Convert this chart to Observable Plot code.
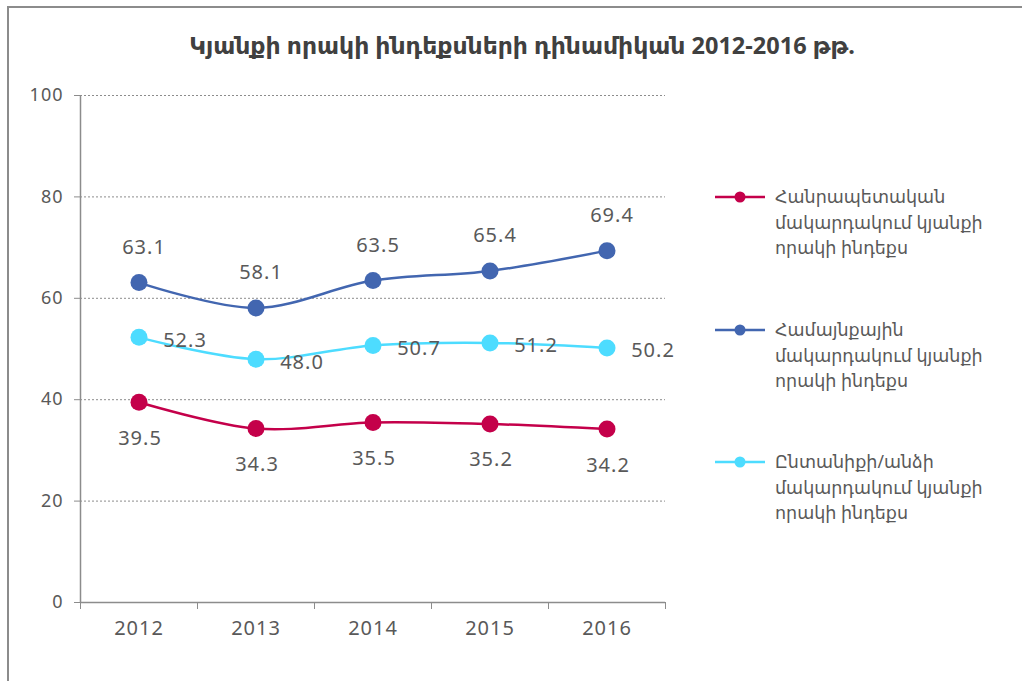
<!DOCTYPE html>
<html>
<head>
<meta charset="utf-8">
<script src="https://cdn.jsdelivr.net/npm/d3@7"></script>
<script src="https://cdn.jsdelivr.net/npm/@observablehq/plot@0.6"></script>
<style>
  html, body { margin: 0; padding: 0; background: #fff; }
  body { width: 1022px; height: 681px; position: relative; overflow: hidden; font-family: "Noto Sans", "DejaVu Sans", sans-serif; }
  #frame { position: absolute; left: 7px; top: 6px; width: 1200px; height: 1000px; border: 2px solid #8c8c8c; box-sizing: border-box; }
  #title { position: absolute; left: 0; top: 29px; width: 1044px; text-align: center; font-size: 23.5px; font-weight: bold; color: #404040; line-height: 32px; }
  #chart { position: absolute; left: 0; top: 70px; }
  #chart svg text { letter-spacing: 1px; }
  #legend { position: absolute; left: 715px; top: 0; }
  .item { position: absolute; left: 0; width: 300px; }
  .item svg { position: absolute; left: 0; top: 0; }
  .item .txt { position: absolute; left: 60px; top: 0; font-size: 17.5px; line-height: 25.5px; color: #595959; white-space: nowrap; }
</style>
</head>
<body>
<div id="frame"></div>
<div id="title">Կյանքի որակի ինդեքսների դինամիկան 2012-2016 թթ.</div>
<div id="chart"></div>
<div id="legend"></div>
<script>
const years = [2012, 2013, 2014, 2015, 2016];
const nationalIndex = [39.5, 34.3, 35.5, 35.2, 34.2];
const communityIndex = [63.1, 58.1, 63.5, 65.4, 69.4];
const householdIndex = [52.3, 48.0, 50.7, 51.2, 50.2];
const seriesNames = ["national", "community", "household"];
const seriesColors = ["#c4004a", "#4266b0", "#4ddcff"];
const legendLabels = [
  ["Հանրապետական", "մակարդակում կյանքի", "որակի ինդեքս"],
  ["Համայնքային", "մակարդակում կյանքի", "որակի ինդեքս"],
  ["Ընտանիքի/անձի", "մակարդակում կյանքի", "որակի ինդեքս"]
];
const yTicks = [0, 20, 40, 60, 80, 100];
const xBoundaries = [2011.5, 2012.5, 2013.5, 2014.5, 2015.5, 2016.5];

const seriesValues = [nationalIndex, communityIndex, householdIndex];
const rows = [];
seriesNames.forEach((s, i) => {
  years.forEach((yr, j) => rows.push({series: s, year: yr, value: seriesValues[i][j]}));
});
const bySeries = s => rows.filter(d => d.series === s);

const plot = Plot.plot({
  width: 700,
  height: 611,
  marginTop: 25,
  marginBottom: 79,
  marginLeft: 80,
  marginRight: 35,
  style: {fontFamily: "'Noto Sans', 'DejaVu Sans', sans-serif", fontSize: "18px", color: "#595959", background: "transparent"},
  x: {domain: [2011.5, 2016.5], axis: null},
  y: {domain: [0, 100], axis: null},
  color: {domain: seriesNames, range: seriesColors},
  marks: [
    Plot.gridY(yTicks.filter(t => t > 0), {stroke: "#8c8c8c", strokeOpacity: 1, strokeDasharray: "2,2", strokeWidth: 1}),
    Plot.ruleX([2011.5], {stroke: "#8c8c8c", strokeWidth: 1.5}),
    Plot.ruleY([0], {stroke: "#8c8c8c", strokeWidth: 1.5}),
    Plot.axisY({ticks: yTicks, tickSize: 6, tickPadding: 11, stroke: "#8c8c8c", fill: "#595959", fontSize: 18, tickFormat: d => String(d), label: null}),
    Plot.axisX({ticks: xBoundaries, tickSize: 7, tickFormat: () => "", stroke: "#8c8c8c", label: null}),
    Plot.axisX({ticks: years, tickSize: 0, tickPadding: 18, fill: "#595959", fontSize: 20, tickFormat: d => String(d), label: null}),
    Plot.line(rows, {x: "year", y: "value", z: "series", stroke: "series", strokeWidth: 2.5, curve: "catmull-rom"}),
    Plot.dot(rows, {x: "year", y: "value", fill: "series", r: 8.5}),
    Plot.text(bySeries("community"), {x: "year", y: "value", text: d => d.value.toFixed(1), dy: -35, dx: 5, fill: "#595959", fontSize: 20}),
    Plot.text(bySeries("national"), {x: "year", y: "value", text: d => d.value.toFixed(1), dy: 36, dx: 1, fill: "#595959", fontSize: 20}),
    Plot.text(bySeries("household"), {x: "year", y: "value", text: d => d.value.toFixed(1), dy: 3, dx: 46, fill: "#595959", fontSize: 20})
  ]
});
document.getElementById("chart").appendChild(plot);

const legend = document.getElementById("legend");
const tops = [184, 317, 449];
seriesNames.forEach((s, i) => {
  const item = document.createElement("div");
  item.className = "item";
  item.style.top = tops[i] + "px";
  item.innerHTML = `<svg width="56" height="26"><line x1="0" x2="50" y1="13" y2="13" stroke="${seriesColors[i]}" stroke-width="2.5"/><circle cx="25" cy="13" r="5.5" fill="${seriesColors[i]}"/></svg><div class="txt">${legendLabels[i].join("<br>")}</div>`;
  legend.appendChild(item);
});
</script>
</body>
</html>
